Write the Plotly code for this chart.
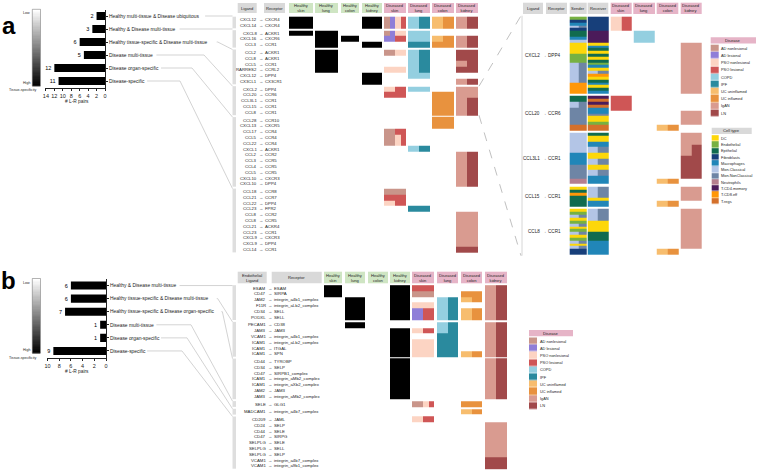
import plotly.graph_objects as go

W, H = 758, 472
FONT = "Liberation Sans, Arial, DejaVu Sans, sans-serif"
TXT = "#262626"

# ---------------- data ----------------
A_GROUPS = ["Healthy multi-tissue & Disease ubiquitous", "Healthy & Disease multi-tissue",
            "Healthy tissue-specific & Disease multi-tissue", "Disease multi-tissue",
            "Disease organ-specific", "Disease-specific"]
A_COUNTS = [2, 3, 6, 5, 12, 11]
A_LIGAND = ["CXCL12", "CXCL14",
            "CXCL8", "CXCL16", "CCL3",
            "CCL2", "CCL8", "CCL5", "RARRES2", "CXCL12", "CX3CL1",
            "CXCL2", "CCL20", "CCL3L1", "CCL15", "CCL8",
            "CCL28", "CXCL13", "CCL17", "CCL5", "CCL22", "CXCL1", "CCL2", "CCL3", "CCL4", "CCL5", "CXCL10", "CXCL10",
            "CCL18", "CCL21", "CCL22", "CCL23", "CCL8", "CCL8", "CCL21", "CCL23", "CXCL9", "CXCL9", "CCL14"]
A_RECEPTOR = ["CXCR4", "CXCR4",
              "ACKR1", "CXCR6", "CCR1",
              "ACKR1", "ACKR1", "CCR1", "CCRL2", "DPP4", "CX3CR1",
              "DPP4", "CCR6", "CCR1", "CCR1", "CCR1",
              "CCR10", "CXCR5", "CCR4", "CCR4", "CCR4", "ACKR1", "CCR2", "CCR5", "CCR5", "CCR5", "CXCR3", "DPP4",
              "CCR8", "CCR7", "DPP4", "FPR2", "CCR2", "CCR5", "ACKR4", "CCR1", "CXCR3", "DPP4", "CCR1"]
# healthy tissues where significant: s=skin l=lung c=colon k=kidney
A_HEALTHY = ["sk", "sk",
             "sl", "lc", "lk",
             "l", "l", "l", "l", "k", "k",
             "", "", "", "", "",
             "", "", "", "", "", "", "", "", "", "", "", "",
             "", "", "", "", "", "", "", "", "", "", ""]
# disease conditions where significant (codes in DISEASE_CODES)
A_DISEASE = ["aApPciuUgn", "aApPciuUgn",
             "aApc", "APcuUgn", "iUgn",
             "apcin", "cin", "cign", "pcin", "c", "gn",
             "pPcg", "PUg", "Ugn", "Ugn", "Ugn",
             "U", "U", "aP", "apP", "apP", "ci", "gn", "gn", "gn", "gn", "gn", "gn",
             "a", "P", "pP", "i", "g", "g", "g", "g", "g", "g", "n"]

B_GROUPS = ["Healthy & Disease multi-tissue", "Healthy tissue-specific & Disease multi-tissue",
            "Healthy tissue-specific & Disease organ-specific", "Disease multi-tissue",
            "Disease organ-specific", "Disease-specific"]
B_COUNTS = [6, 6, 7, 1, 1, 9]
B_LIGAND = ["ESAM", "CD47", "JAM2", "F11R", "CD34", "PODXL",
            "PECAM1", "JAM3", "VCAM1", "ICAM1", "ICAM1", "ICAM1",
            "CD44", "CD34", "CD47", "ICAM1", "ICAM1", "JAM2", "JAM3",
            "SELE",
            "MADCAM1",
            "CD209", "CD24", "CD44", "CD47", "SELPLG", "SELPLG", "SELPLG", "VCAM1", "VCAM1"]
B_RECEPTOR = ["ESAM", "SIRPA", "integrin_a4b1_complex", "integrin_aLb2_complex", "SELL", "SELL",
              "CD38", "JAM3", "integrin_a4b1_complex", "integrin_aLb2_complex", "ITGAL", "SPN",
              "TYROBP", "SELP", "SIRPB1_complex", "integrin_aMb2_complex", "integrin_aXb2_complex", "JAM3",
              "integrin_aMb2_complex",
              "GLG1",
              "integrin_a4b7_complex",
              "JAML", "SELP", "SELE", "SIRPG", "SELE", "SELL", "SELP", "integrin_a4b7_complex",
              "integrin_a9b1_complex"]
B_HEALTHY = ["sk", "sk", "lk", "lk", "lk", "lk",
             "l", "k", "k", "k", "k", "k",
             "k", "k", "k", "k", "k", "k", "k",
             "",
             "",
             "", "", "", "", "", "", "", "", ""]
B_DISEASE = ["Pgn", "aUgn", "ciuUgn", "pcign", "APciuUgn", "APciuUgn",
             "cign", "pPcign", "ign", "pign", "pign", "piuUgn",
             "gn", "gn", "gn", "gn", "gn", "gn", "gn",
             "apPU",
             "uU",
             "pP", "g", "g", "g", "g", "g", "g", "n", "n"]

# expanded view: sender / receiver cell types and disease conditions per sub-row
RP_LIGAND = ["CXCL2", "CCL20", "CCL3L1", "CCL15", "CCL8"]
RP_RECEPTOR = ["DPP4", "CCR6", "CCR1", "CCR1", "CCR1"]
RP_CXCL2_DPP4 = ["E F pP", "F F pP", "M F pP", "CN F pP", "F F pP",
                 "P 4 c", "P 4 c", "M 4 c", "C 4 c",
                 "D D g", "D M g", "D P g", "D D g", "E P g", "E D g", "E P g", "CN E g", "CN M g",
                 "CN D g", "CN CN g", "CN 8 g", "CN D g", "CN P g", "8 M g", "8 D g", "8 P g", "8 M g"]
RP_CCL20_CCR6 = ["P 4 P", "P R P", "CN 4 P", "CN R P", "N M P",
                 "N M g", "N N g", "N D g", "N D g", "N E g",
                 "R R uU", "R R uU"]
RP_CCL3L1_CCR1 = ["C P g", "C D g", "C D g", "C M g", "C M gn", "C CN gn", "C CN gn", "M D gn",
                  "M D n", "M CN n", "M CN n", "N D n", "N D n", "N CN n", "N CN n", "N M n",
                  "U M uU", "U M uU"]
RP_CCL15_CCR1 = ["D CN g", "P CN g", "8 CN g", "P CN g", "P D g", "P M uU", "P M uU"]
RP_CCL8_CCR1 = ["D CN g", "E CN g", "CN CN g", "D CN g", "E D g", "CN D g", "D D g", "E D g",
                "CN P g", "D P g", "E P g", "CN M g", "D M g", "CN M g", "F M uU", "F M uU"]
RP_SUBROWS = [RP_CXCL2_DPP4, RP_CCL20_CCR6, RP_CCL3L1_CCR1, RP_CCL15_CCR1, RP_CCL8_CCR1]

TISSUES = ["skin", "lung", "colon", "kidney"]
HEALTHY_CODES = "slck"
DISEASE_NAMES = ["AD nonlesional", "AD lesional", "PSO nonlesional", "PSO lesional", "COPD", "IPF",
                 "UC uninflamed", "UC inflamed", "IgAN", "LN"]
DISEASE_CODES = ["a", "A", "p", "P", "c", "i", "u", "U", "g", "n"]
DISEASE_COLORS = ["#c9958a", "#8f7ed8", "#fcd4c3", "#cf5656", "#94cfe0", "#2a8a9e",
                  "#f7bd6e", "#e8923e", "#d99b90", "#a1494a"]
CELLTYPE_NAMES = ["DC", "Endothelial", "Epithelial", "Fibroblasts", "Macrophages", "Mon.Classical",
                  "Mon.NonClassical", "Neutrophils", "T.CD4.memory", "T.CD8.eff", "T.regs"]
CELLTYPE_CODES = ["D", "E", "P", "F", "M", "C", "N", "U", "4", "8", "R"]
CELLTYPE_COLORS = ["#fdd70a", "#77b142", "#116b4f", "#173f7a", "#2186b8", "#b3c5e6",
                   "#6e85a5", "#b57f8f", "#4b1b5a", "#ff9708", "#d4702b"]
# disease hierarchy inside each diseased tissue column, and sub-column count
DZ_TISSUES = [([["a", "A"], ["p", "P"]], 4), ([["c"], ["i"]], 2), ([["u", "U"]], 2), ([["g"], ["n"]], 2)]

# ---------------- layout constants (pixels) ----------------
ROW_H, GROUP_GAP = 5.8, 1.9
A_TOP, B_TOP = 16.7, 285.2
RP_TOP, RP_ROW_H, RP_GAP = 16.7, 2.85, 2.5
A_COLS = [(289, 313, 1), (315, 338, 1), (341, 359, 1), (362, 382, 1),
          (384, 406, 4), (408, 430, 2), (432, 454, 2), (456, 478, 2)]
B_COLS = [(324, 342, 1), (345, 365, 1), (368, 388, 1), (390, 410, 1),
          (412, 434, 4), (437, 458, 2), (461, 482, 2), (485, 507, 2)]
RP_COLS = [(569.7, 586.7, 2), (587.7, 608.3, 2), (610.7, 631.7, 4), (633.3, 655, 2),
           (656.7, 678.3, 2), (680.7, 701.7, 2)]
GRAY_H, GREEN_H, PINK_H = "#d9d9d9", "#cfe5c3", "#e6b4c7"

# ---------------- palette ----------------
KEYS = ["H"] + ["d" + c for c in DISEASE_CODES] + ["t" + c for c in CELLTYPE_CODES]
COLS = ["#000000"] + DISEASE_COLORS + CELLTYPE_COLORS
KIDX = {k: i for i, k in enumerate(KEYS)}
K = len(KEYS)
CSCALE = []
for i, c in enumerate(COLS):
    CSCALE += [[i / K, c], [(i + 1) / K, c]]

fig = go.Figure()
shapes, anns = [], []


def txt(x, y, s, size=4.3, anchor="center", color=TXT):
    anns.append(dict(x=x, y=y, xref="x", yref="y", text=s, showarrow=False, xanchor=anchor,
                     yanchor="middle", borderpad=0, font=dict(family=FONT, size=size, color=color)))


def rect(x0, y0, x1, y1, fill, line=None, lw=0):
    shapes.append(dict(type="rect", xref="x", yref="y", x0=x0, y0=y0, x1=x1, y1=y1,
                       fillcolor=fill, line=dict(color=line or fill, width=lw), layer="below"))


def path(pts, color="#c8c8c8", width=0.8, dash="solid"):
    d = "M " + " L ".join(f"{x},{y}" for x, y in pts)
    shapes.append(dict(type="path", xref="x", yref="y", path=d,
                       line=dict(color=color, width=width, dash=dash)))


def edges_and_map(spans):
    edges, cmap = [], []
    for si, (a, b, ns) in enumerate(spans):
        if not edges:
            edges.append(a)
        elif a > edges[-1] + 1e-6:
            cmap.append(None)
            edges.append(a)
        for k in range(ns):
            edges.append(a + (b - a) * (k + 1) / ns)
            cmap.append((si, k))
    return edges, cmap


def heat(xspans, yspans, cell_fn, ygap=0):
    xe, xm = edges_and_map(xspans)
    ye, ym = edges_and_map(yspans)
    z = []
    for rm in ym:
        row = []
        for cm in xm:
            v = None
            if rm is not None and cm is not None:
                cells = cell_fn(rm[0], cm[0])
                if cells and cells[cm[1]] is not None:
                    v = KIDX[cells[cm[1]]] + 0.5
            row.append(v)
        z.append(row)
    fig.add_trace(go.Heatmap(x=xe, y=ye, z=z, colorscale=CSCALE, zmin=0, zmax=K, showscale=False,
                             hoverinfo="skip", ygap=ygap, xaxis="x", yaxis="y"))


def disease_cells(conds, groups, nsub):
    present = [[c for c in g if c in conds] for g in groups]
    present = [p for p in present if p]
    if not present:
        return None
    out = []
    share = nsub // len(present)
    for p in present:
        each = share // len(p)
        for c in p:
            out += ["d" + c] * each
    return out


def group_rows(top, counts):
    rows, tops, bots = [], [], []
    y = top
    for n in counts:
        tops.append(y)
        for i in range(n):
            rows.append((y + i * ROW_H, y + (i + 1) * ROW_H, 1))
        y += n * ROW_H
        bots.append(y)
        y += GROUP_GAP
    return rows, tops, bots


def main_grid(cols, rows, healthy, disease):
    def f(r, b):
        if b < 4:
            return ["H"] if HEALTHY_CODES[b] in healthy[r] else None
        groups, ns = DZ_TISSUES[b - 4]
        return disease_cells(disease[r], groups, ns)
    heat(cols, rows, f)


def headers(items, y0, y1):
    for label, x0, x1, col in items:
        rect(x0, y0, x1, y1, col)
        txt((x0 + x1) / 2, (y0 + y1) / 2, label, size=4.1)


def tissue_headers(cols):
    out = []
    for i, t in enumerate(TISSUES):
        out.append(("Healthy<br>" + t, cols[i][0], cols[i][1], GREEN_H))
    for i, t in enumerate(TISSUES):
        out.append(("Diseased<br>" + t, cols[4 + i][0], cols[4 + i][1], PINK_H))
    return out


def bar_panel(groups, counts, xa, ya, xmax, dom_x, dom_y, title_y):
    fig.add_trace(go.Bar(x=counts, y=groups, orientation="h", marker=dict(color="black", line=dict(width=0)),
                         width=0.62, text=[str(v) for v in counts], textposition="outside",
                         textfont=dict(size=5.5, family=FONT, color="black"), cliponaxis=False,
                         xaxis=xa, yaxis=ya, hoverinfo="skip"))
    ax = dict(domain=[dom_x[0] / W, dom_x[1] / W], range=[xmax, 0], anchor=ya,
              showline=True, linecolor="#222", linewidth=0.8, ticks="outside", ticklen=2.5,
              tickwidth=0.8, tickcolor="#222", tickvals=list(range(0, xmax + 1, 2)),
              tickfont=dict(size=5.5, family=FONT, color="#222"), showgrid=False, zeroline=False,
              fixedrange=True)
    ay = dict(domain=[1 - dom_y[1] / H, 1 - dom_y[0] / H], anchor=xa, side="right", type="category",
              categoryorder="array", categoryarray=groups, range=[len(groups) - 0.5, -0.5],
              showline=True, linecolor="#222", linewidth=0.8, ticks="outside", ticklen=2,
              tickwidth=0.6, tickcolor="#222", tickfont=dict(size=4.9, family=FONT, color="#222"),
              showgrid=False, zeroline=False, fixedrange=True)
    txt(77, title_y, "# L-R pairs", size=4.8)
    return ax, ay


def gradient(x0, x1, y0, y1, lab_y):
    n = 60
    ye = [y0 + (y1 - y0) * i / n for i in range(n + 1)]
    z = [[i / (n - 1)] for i in range(n)]
    fig.add_trace(go.Heatmap(x=[x0, x1], y=ye, z=z, colorscale=[[0, "#ffffff"], [1, "#000000"]],
                             showscale=False, hoverinfo="skip", xaxis="x", yaxis="y"))
    shapes.append(dict(type="rect", xref="x", yref="y", x0=x0, x1=x1, y0=y0, y1=y1,
                       line=dict(color="#666", width=0.5)))
    txt(x0 - 1.2, y0 + 4, "Low", size=3.6, anchor="right")
    txt(x0 - 1.2, y1 - 3, "High", size=3.6, anchor="right")
    txt(22, lab_y, "Tissue-specificity", size=3.6)


def connectors(groups, dom_y, tops, knees):
    slot = (dom_y[1] - dom_y[0]) / len(groups)
    for i, g in enumerate(groups):
        yl = dom_y[0] + slot * (i + 0.5)
        x_end = 108 + 2.32 * len(g) + 2
        gt = tops[i]
        if knees[i] is None:
            path([(x_end, yl), (232.5, yl)])
        else:
            kx = max(knees[i], x_end + 1)
            path([(x_end, yl), (kx, yl), (232.5, gt)])


def strips(tops, bots):
    for t, b in zip(tops, bots):
        rect(232.5, t, 236, b, "#dedede")


def row_labels(rows, ligs, recs, xl, xa, xr, size=4.3):
    for (y0, y1, _), l, r in zip(rows, ligs, recs):
        yc = (y0 + y1) / 2
        txt(xl, yc, l, size=size, anchor="right")
        txt(xa, yc, "\u2192", size=size)
        txt(xr, yc, r, size=size, anchor="left")


# ---------------- panel a ----------------
txt(9, 25, "<b>a</b>", size=24, color="black")
gradient(32.3, 40.5, 9.3, 86, 90)
A_DOMY = (9.5, 87.5)
ax2, ay2 = bar_panel(A_GROUPS, A_COUNTS, "x2", "y2", 14, (45.9, 105), A_DOMY, 101.7)
a_rows, a_tops, a_bots = group_rows(A_TOP, A_COUNTS)
strips(a_tops, a_bots)
connectors(A_GROUPS, A_DOMY, a_tops, [None, None, 215, 204, 192, 180])
headers([("Ligand", 237.7, 256.7, GRAY_H), ("Receptor", 264, 285, GRAY_H)] + tissue_headers(A_COLS), 3, 13)
main_grid(A_COLS, a_rows, A_HEALTHY, A_DISEASE)
row_labels(a_rows, A_LIGAND, A_RECEPTOR, 257.5, 260.5, 263.5)

# expanded view
rp_rows, rp_parse, rp_centers = [], [], []
y = RP_TOP
for pi, subs in enumerate(RP_SUBROWS):
    y_start = y
    for s in subs:
        rp_rows.append((y, y + RP_ROW_H, 1))
        rp_parse.append(s.split())
        y += RP_ROW_H
    rp_centers.append((y_start + y) / 2)
    y += RP_GAP
rp_bottom = y - RP_GAP


def rp_cells(r, b):
    snd, rcv, conds = rp_parse[r]
    if b < 2:
        ct = snd if b == 0 else rcv
        return ["t" + ct[0], "t" + ct[-1]]
    groups, ns = DZ_TISSUES[b - 2]
    return disease_cells(conds, groups, ns)


heat(RP_COLS, rp_rows, rp_cells)
headers([("Ligand", 523, 543, GRAY_H), ("Receptor", 546, 567, GRAY_H), ("Sender", 569.7, 586.7, GRAY_H),
         ("Receiver", 587.7, 608.3, GRAY_H)] +
        [("Diseased<br>" + t, RP_COLS[2 + i][0], RP_COLS[2 + i][1], PINK_H) for i, t in enumerate(TISSUES)],
        2.7, 14)
for yc, l, r in zip(rp_centers, RP_LIGAND, RP_RECEPTOR):
    txt(541, yc, l, size=4.6, anchor="right")
    txt(544.2, yc, "\u2192", size=4.6)
    txt(547.3, yc, r, size=4.6, anchor="left")
path([(522, RP_TOP - 1), (522, rp_bottom + 1)], color="#d6d6d6", width=1)
path([(479, a_tops[3]), (521, RP_TOP - 1)], color="#b0b0b0", width=0.8, dash="dash")
path([(479, a_bots[3]), (521, rp_bottom + 1)], color="#b0b0b0", width=0.8, dash="dash")


# legends
def legend(title, x0, x1, hx1, y_top, step, names, keys, hcol):
    rect(x0, y_top - 7.4, hx1, y_top - 1.2, hcol)
    txt((x0 + hx1) / 2, y_top - 4.3, title, size=4.1)
    spans = [(y_top + i * step, y_top + (i + 1) * step, 1) for i in range(len(names))]
    heat([(x0, x1, 1)], spans, lambda r, b: [keys[r]], ygap=0.5)
    for i, nm in enumerate(names):
        txt(x1 + 1.6, y_top + (i + 0.5) * step, nm, size=3.9, anchor="left")


legend("Disease", 710.7, 718.3, 756, 44.7, 7.2, DISEASE_NAMES, ["d" + c for c in DISEASE_CODES], PINK_H)
legend("Cell type", 711.7, 718.3, 751.7, 135.2, 6.27, CELLTYPE_NAMES, ["t" + c for c in CELLTYPE_CODES], GRAY_H)

# ---------------- panel b ----------------
txt(8.5, 280.5, "<b>b</b>", size=24, color="black")
gradient(32.3, 40.5, 278.5, 353, 358.3)
B_DOMY = (279, 357.5)
ax3, ay3 = bar_panel(B_GROUPS, B_COUNTS, "x3", "y3", 10, (47.5, 106), B_DOMY, 371.7)
b_rows, b_tops, b_bots = group_rows(B_TOP, B_COUNTS)
strips(b_tops, b_bots)
connectors(B_GROUPS, B_DOMY, b_tops, [None, 214, 220, 191, 187, 182])
headers([("Endothelial<br>Ligand", 237.7, 266.7, GRAY_H), ("Receptor", 271.7, 321.7, GRAY_H)] +
        tissue_headers(B_COLS), 271.7, 283.3)
main_grid(B_COLS, b_rows, B_HEALTHY, B_DISEASE)
row_labels(b_rows, B_LIGAND, B_RECEPTOR, 266.5, 269.5, 272.5)
legend("Disease", 529, 537, 573, 337.5, 7.2, DISEASE_NAMES, ["d" + c for c in DISEASE_CODES], PINK_H)

fig.update_layout(
    width=W, height=H, margin=dict(l=0, r=0, t=0, b=0, autoexpand=False),
    paper_bgcolor="white", plot_bgcolor="rgba(0,0,0,0)", showlegend=False,
    xaxis=dict(domain=[0, 1], range=[0, W], visible=False, fixedrange=True),
    yaxis=dict(domain=[0, 1], range=[H, 0], visible=False, fixedrange=True),
    xaxis2=ax2, yaxis2=ay2, xaxis3=ax3, yaxis3=ay3,
    shapes=shapes, annotations=anns, font=dict(family=FONT),
)
fig.write_html("out.html", config={"displayModeBar": False, "responsive": False},
               post_script="document.body.style.margin='0';document.body.style.overflow='hidden';")
